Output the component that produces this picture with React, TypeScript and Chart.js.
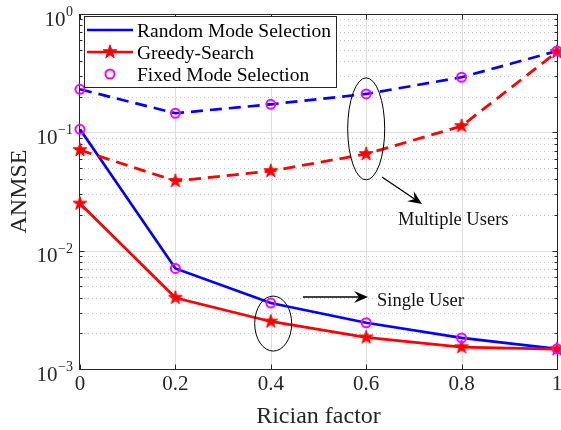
import React, { useEffect, useRef } from "react";
import { Chart, registerables } from "chart.js";

Chart.register(...registerables);

// ---------- data ----------
const xValues = [0, 0.2, 0.4, 0.6, 0.8, 1];
const xTickLabels = ["0", "0.2", "0.4", "0.6", "0.8", "1"];
const yDecades = [-3, -2, -1, 0];

const randomSingle = [0.106, 0.00707, 0.00361, 0.00246, 0.00183, 0.00148];
const greedySingle = [0.025, 0.004, 0.00252, 0.00185, 0.00153, 0.00147];
const randomMulti = [0.231, 0.145, 0.1725, 0.211, 0.292, 0.487];
const greedyMulti = [0.0709, 0.0388, 0.0471, 0.0656, 0.113, 0.478];
const fixedSingle = [0.106, 0.00707, 0.00361, 0.00246, 0.00183, 0.00148];
const fixedMulti = [0.231, 0.145, 0.1725, 0.211, 0.292, 0.487];

const legendLabels = ["Random Mode Selection", "Greedy-Search", "Fixed Mode Selection"];
const xTitle = "Rician factor";
const yTitle = "ANMSE";
const multiText = "Multiple Users";
const singleText = "Single User";

const FONT = "'Liberation Serif', 'Times New Roman', serif";
const BLUE = "#0000ff";
const RED = "#ff0000";
const MAGENTA = "#ff00ff";
const AXIS = "#262626";

function pts(arr: number[]) {
  return xValues.map((x, i) => ({ x, y: arr[i] }));
}

function makeStar(R: number, color: string) {
  const size = Math.ceil(R * 2 + 3);
  const c = document.createElement("canvas");
  c.width = size;
  c.height = size;
  const g = c.getContext("2d")!;
  const cx = size / 2;
  const cy = size / 2;
  const r = R * 0.382;
  g.beginPath();
  for (let i = 0; i < 10; i++) {
    const a = -Math.PI / 2 + (i * Math.PI) / 5;
    const rad = i % 2 === 0 ? R : r;
    const px = cx + rad * Math.cos(a);
    const py = cy + rad * Math.sin(a);
    if (i === 0) g.moveTo(px, py);
    else g.lineTo(px, py);
  }
  g.closePath();
  g.fillStyle = color;
  g.fill();
  g.lineWidth = 1;
  g.strokeStyle = color;
  g.lineJoin = "miter";
  g.stroke();
  return c;
}

function drawArrow(ctx: CanvasRenderingContext2D, x1: number, y1: number, x2: number, y2: number) {
  const L = 14;
  const W = 6;
  const N = 9;
  const dx = x2 - x1;
  const dy = y2 - y1;
  const len = Math.hypot(dx, dy);
  const ux = dx / len;
  const uy = dy / len;
  const px = -uy;
  const py = ux;
  ctx.beginPath();
  ctx.moveTo(x1, y1);
  ctx.lineTo(x2 - ux * N, y2 - uy * N);
  ctx.stroke();
  ctx.beginPath();
  ctx.moveTo(x2, y2);
  ctx.lineTo(x2 - ux * L + px * W, y2 - uy * L + py * W);
  ctx.lineTo(x2 - ux * N, y2 - uy * N);
  ctx.lineTo(x2 - ux * L - px * W, y2 - uy * L - py * W);
  ctx.closePath();
  ctx.fill();
}

function line(ctx: CanvasRenderingContext2D, x1: number, y1: number, x2: number, y2: number) {
  ctx.beginPath();
  ctx.moveTo(x1, y1);
  ctx.lineTo(x2, y2);
  ctx.stroke();
}

export default function App() {
  const ref = useRef<HTMLCanvasElement | null>(null);

  useEffect(() => {
    if (!ref.current) return;
    const star = makeStar(7.2, RED);

    const matlabPlugin = {
      id: "matlabAxes",
      beforeDatasetsDraw(chart: any) {
        const { ctx, chartArea: a, scales } = chart;
        const xs = scales.x;
        const ys = scales.y;
        ctx.save();
        // minor dotted grid
        ctx.lineWidth = 1;
        ctx.strokeStyle = "#c8c8c8";
        ctx.setLineDash([1, 3]);
        for (let d = -3; d < 0; d++) {
          for (let m = 2; m <= 9; m++) {
            const py = Math.round(ys.getPixelForValue(m * Math.pow(10, d))) + 0.5;
            line(ctx, a.left, py, a.right, py);
          }
        }
        ctx.setLineDash([]);
        ctx.strokeStyle = "#dedede";
        yDecades.forEach((d) => {
          const py = Math.round(ys.getPixelForValue(Math.pow(10, d))) + 0.5;
          if (py > a.top + 1 && py < a.bottom - 1) line(ctx, a.left, py, a.right, py);
        });
        xValues.forEach((v) => {
          const px = Math.round(xs.getPixelForValue(v)) + 0.5;
          if (px > a.left + 1 && px < a.right - 1) line(ctx, px, a.top, px, a.bottom);
        });
        // axes box
        ctx.strokeStyle = AXIS;
        ctx.lineWidth = 1;
        const L = a.left - 0.5;
        const T = a.top + 0.5;
        const R = a.right + 0.5;
        const B = a.bottom + 0.5;
        ctx.strokeRect(L, T, R - L, B - T);
        // y ticks
        for (let d = -3; d < 0; d++) {
          for (let m = 1; m <= 9; m++) {
            const py = Math.round(ys.getPixelForValue(m * Math.pow(10, d))) + 0.5;
            const tl = m === 1 ? 5 : 3;
            line(ctx, L, py, L + tl, py);
            line(ctx, R, py, R - tl, py);
          }
        }
        // x ticks
        xValues.forEach((v) => {
          const px = Math.round(xs.getPixelForValue(v)) + 0.5;
          line(ctx, px, B, px, B - 5);
          line(ctx, px, T, px, T + 5);
        });
        ctx.restore();
      },
      afterDatasetsDraw(chart: any) {
        const { ctx, chartArea: a, scales } = chart;
        const xs = scales.x;
        const ys = scales.y;
        ctx.save();
        ctx.fillStyle = AXIS;
        // y tick labels
        yDecades.forEach((d) => {
          const py = ys.getPixelForValue(Math.pow(10, d));
          const sup = d < 0 ? "\u2212" + String(-d) : String(d);
          ctx.font = `14px ${FONT}`;
          const sw = ctx.measureText(sup).width;
          const rightEdge = a.left - 7;
          ctx.textAlign = "left";
          ctx.textBaseline = "alphabetic";
          ctx.fillText(sup, rightEdge - sw, py + 2);
          ctx.font = `21px ${FONT}`;
          ctx.textAlign = "right";
          ctx.fillText("10", rightEdge - sw - 0.5, py + 11.5);
        });
        // x tick labels
        ctx.font = `21px ${FONT}`;
        ctx.textAlign = "center";
        ctx.textBaseline = "alphabetic";
        xValues.forEach((v, i) => {
          ctx.fillText(xTickLabels[i], xs.getPixelForValue(v), a.bottom + 21);
        });
        // titles
        ctx.font = `24px ${FONT}`;
        ctx.fillText(xTitle, (a.left + a.right) / 2, a.bottom + 54);
        ctx.save();
        ctx.translate(26, (a.top + a.bottom) / 2);
        ctx.rotate(-Math.PI / 2);
        ctx.textAlign = "center";
        ctx.fillText(yTitle, 0, 0);
        ctx.restore();

        // annotations
        ctx.strokeStyle = "#000";
        ctx.fillStyle = "#000";
        ctx.lineWidth = 1;
        ctx.beginPath();
        ctx.ellipse(xs.getPixelForValue(0.6), ys.getPixelForValue(0.107), 18.5, 51, 0, 0, Math.PI * 2);
        ctx.stroke();
        ctx.beginPath();
        ctx.ellipse(xs.getPixelForValue(0.405), ys.getPixelForValue(0.00242), 18.5, 27.5, 0, 0, Math.PI * 2);
        ctx.stroke();
        ctx.lineWidth = 1.3;
        drawArrow(
          ctx,
          xs.getPixelForValue(0.633),
          ys.getPixelForValue(0.0419),
          xs.getPixelForValue(0.717),
          ys.getPixelForValue(0.0248)
        );
        drawArrow(
          ctx,
          xs.getPixelForValue(0.4675),
          ys.getPixelForValue(0.00406),
          xs.getPixelForValue(0.6038),
          ys.getPixelForValue(0.00406)
        );
        ctx.font = `18.5px ${FONT}`;
        ctx.textAlign = "left";
        ctx.textBaseline = "alphabetic";
        ctx.fillStyle = "#111";
        ctx.fillText(multiText, xs.getPixelForValue(0.6667), ys.getPixelForValue(0.01648));
        ctx.fillText(singleText, xs.getPixelForValue(0.6226), ys.getPixelForValue(0.00344));

        // legend
        const lx = a.left + 4;
        const ly = a.top + 2;
        const lw = 252;
        const lh = 71;
        ctx.fillStyle = "#fff";
        ctx.fillRect(lx, ly, lw, lh);
        ctx.strokeStyle = AXIS;
        ctx.lineWidth = 1;
        ctx.strokeRect(lx + 0.5, ly + 0.5, lw, lh);
        const rows = [ly + 14, ly + 36, ly + 58];
        const sx1 = lx + 3;
        const sx2 = lx + 49;
        const mx = (sx1 + sx2) / 2;
        ctx.lineWidth = 2.7;
        ctx.strokeStyle = BLUE;
        line(ctx, sx1, rows[0], sx2, rows[0]);
        ctx.strokeStyle = RED;
        line(ctx, sx1, rows[1], sx2, rows[1]);
        ctx.drawImage(star, mx - star.width / 2, rows[1] - star.height / 2);
        ctx.strokeStyle = MAGENTA;
        ctx.lineWidth = 2;
        ctx.beginPath();
        ctx.arc(mx, rows[2], 4.5, 0, Math.PI * 2);
        ctx.stroke();
        ctx.fillStyle = "#000";
        ctx.font = `19.5px ${FONT}`;
        ctx.textAlign = "left";
        ctx.textBaseline = "alphabetic";
        legendLabels.forEach((t, i) => {
          ctx.fillText(t, lx + 53, rows[i] + 7);
        });
        ctx.restore();
      },
    };

    const chart = new Chart(ref.current, {
      type: "line",
      data: {
        datasets: [
          {
            label: "Fixed Mode Selection (single)",
            data: pts(fixedSingle),
            showLine: false,
            pointStyle: "circle",
            pointRadius: 4.5,
            pointBorderWidth: 2,
            pointBorderColor: MAGENTA,
            pointBackgroundColor: "rgba(0,0,0,0)",
            order: 1,
            clip: false,
          },
          {
            label: "Fixed Mode Selection (multi)",
            data: pts(fixedMulti),
            showLine: false,
            pointStyle: "circle",
            pointRadius: 4.5,
            pointBorderWidth: 2,
            pointBorderColor: MAGENTA,
            pointBackgroundColor: "rgba(0,0,0,0)",
            order: 1,
            clip: false,
          },
          {
            label: "Greedy-Search (single)",
            data: pts(greedySingle),
            borderColor: RED,
            borderWidth: 2.8,
            pointStyle: star as any,
            pointRadius: 7,
            order: 2,
            clip: false,
          },
          {
            label: "Greedy-Search (multi)",
            data: pts(greedyMulti),
            borderColor: RED,
            borderWidth: 2.8,
            borderDash: [12, 7],
            pointStyle: star as any,
            pointRadius: 7,
            order: 2,
            clip: false,
          },
          {
            label: "Random Mode Selection (single)",
            data: pts(randomSingle),
            borderColor: BLUE,
            borderWidth: 2.7,
            pointRadius: 0,
            order: 3,
            clip: false,
          },
          {
            label: "Random Mode Selection (multi)",
            data: pts(randomMulti),
            borderColor: BLUE,
            borderWidth: 2.7,
            borderDash: [12, 7],
            pointRadius: 0,
            order: 3,
            clip: false,
          },
        ],
      },
      options: {
        responsive: false,
        animation: false,
        events: [],
        layout: { autoPadding: false, padding: { left: 80, top: 14, right: 4, bottom: 61 } },
        plugins: { legend: { display: false }, tooltip: { enabled: false } },
        elements: { line: { tension: 0, fill: false } },
        scales: {
          x: { type: "linear", display: false, min: 0, max: 1 },
          y: { type: "logarithmic", display: false, min: 0.001, max: 1 },
        },
      } as any,
      plugins: [matlabPlugin],
    });
    return () => chart.destroy();
  }, []);

  return (
    <div style={{ position: "absolute", left: 0, top: 0, width: 561, height: 430, background: "#fff" }}>
      <canvas ref={ref} width={561} height={430} style={{ display: "block", width: 561, height: 430 }} />
    </div>
  );
}
